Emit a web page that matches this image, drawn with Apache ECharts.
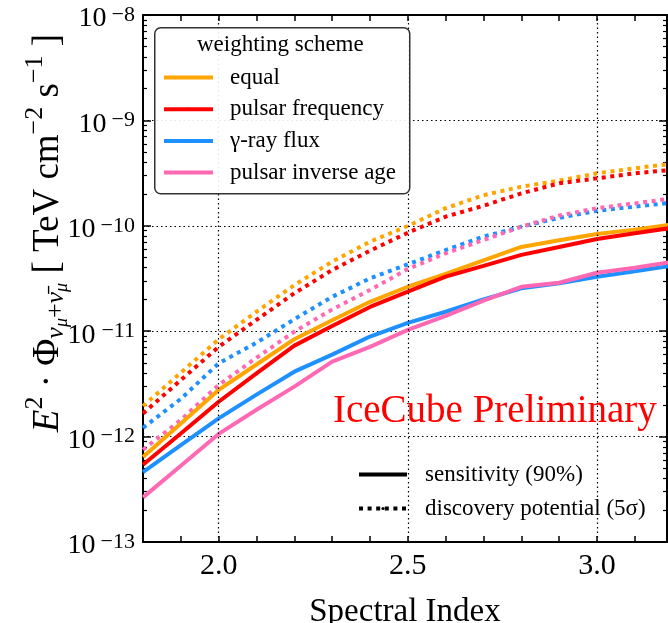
<!DOCTYPE html>
<html>
<head>
<meta charset="utf-8">
<script src="https://cdn.jsdelivr.net/npm/echarts@6.0.0/dist/echarts.min.js"></script>
<style>
  html, body { margin: 0; padding: 0; background: #fff; }
  #chart { width: 668px; height: 623px; }
</style>
</head>
<body>
<div id="chart"></div>
<script>
// spectral index grid
const xs = [1.8, 1.9, 2.0, 2.1, 2.2, 2.3, 2.4, 2.5, 2.6, 2.7, 2.8, 2.9, 3.0, 3.1, 3.2];

// sensitivity (90%)
const equalSens = [6.4e-13, 1.33e-12, 2.77e-12, 4.83e-12, 8.4e-12, 1.27e-11, 1.9e-11, 2.64e-11, 3.5e-11, 4.7e-11, 6.3e-11, 7.3e-11, 8.35e-11, 9.2e-11, 1.03e-10];
const freqSens = [5.4e-13, 1.07e-12, 2.14e-12, 3.98e-12, 7.3e-12, 1.12e-11, 1.7e-11, 2.37e-11, 3.29e-11, 4.17e-11, 5.3e-11, 6.3e-11, 7.5e-11, 8.5e-11, 9.6e-11];
const gammaSens = [4.6e-13, 8.3e-13, 1.49e-12, 2.5e-12, 4.13e-12, 6.0e-12, 8.9e-12, 1.2e-11, 1.53e-11, 2.0e-11, 2.55e-11, 2.85e-11, 3.29e-11, 3.7e-11, 4.2e-11];
const ageSens = [2.65e-13, 5.3e-13, 1.06e-12, 1.8e-12, 2.98e-12, 5.14e-12, 7.1e-12, 1.03e-11, 1.4e-11, 1.95e-11, 2.64e-11, 2.88e-11, 3.59e-11, 4.0e-11, 4.55e-11];

// discovery potential (5 sigma)
const equalDisc = [1.95e-12, 4.04e-12, 8.37e-12, 1.53e-11, 2.74e-11, 4.57e-11, 7.06e-11, 9.96e-11, 1.47e-10, 1.95e-10, 2.35e-10, 2.68e-10, 3.15e-10, 3.51e-10, 3.9e-10];
const freqDisc = [1.66e-12, 3.44e-12, 7.1e-12, 1.28e-11, 2.29e-11, 3.81e-11, 5.8e-11, 8.6e-11, 1.22e-10, 1.55e-10, 2.03e-10, 2.53e-10, 2.82e-10, 3.15e-10, 3.4e-10];
const gammaDisc = [1.21e-12, 2.28e-12, 4.96e-12, 7.78e-12, 1.3e-11, 2.12e-11, 3.17e-11, 4.31e-11, 5.89e-11, 7.9e-11, 9.8e-11, 1.19e-10, 1.39e-10, 1.52e-10, 1.66e-10];
const ageDisc = [7.5e-13, 1.44e-12, 3.09e-12, 5.6e-12, 9.9e-12, 1.61e-11, 2.46e-11, 3.89e-11, 5.48e-11, 7.33e-11, 9.8e-11, 1.25e-10, 1.47e-10, 1.63e-10, 1.82e-10];

const schemes = ["equal", "pulsar frequency", "\u03b3-ray flux", "pulsar inverse age"];
const colors = ["#ffa500", "#ff0000", "#1e90ff", "#ff69b4"];
const gridX = [2.0, 2.5, 3.0];

const FONT = "'Liberation Serif', 'DejaVu Serif', serif";
const DOTS = [4, 4.6];

const chart = echarts.init(document.getElementById("chart"));

const pairs = (ys) => xs.map((x, i) => [x, ys[i]]);

const sensSeries = [equalSens, freqSens, gammaSens, ageSens];
const discSeries = [equalDisc, freqDisc, gammaDisc, ageDisc];

const series = [];
sensSeries.forEach((ys, i) => {
  series.push({
    name: schemes[i],
    type: "line",
    data: pairs(ys),
    showSymbol: false,
    symbol: "none",
    z: 4,
    color: colors[i],
    lineStyle: { color: colors[i], width: 4, type: "solid" },
  });
});
discSeries.forEach((ys, i) => {
  series.push({
    name: schemes[i],
    type: "line",
    data: pairs(ys),
    showSymbol: false,
    symbol: "none",
    z: 3,
    color: colors[i],
    lineStyle: { color: colors[i], width: 4, type: DOTS, cap: "butt" },
  });
});
// dummy series, only for the line style legend
series.push({
  name: "sensitivity (90%)",
  type: "line",
  data: [],
  symbol: "none",
  color: "#000",
  lineStyle: { color: "#000", width: 4, type: "solid" },
});
series.push({
  name: "discovery potential (5\u03c3)",
  type: "line",
  data: [],
  symbol: "none",
  color: "#000",
  lineStyle: { color: "#000", width: 4, type: DOTS, cap: "butt" },
});
// vertical grid lines
series.push({
  name: "grid",
  type: "line",
  data: [],
  z: 1,
  markLine: {
    silent: true,
    symbol: "none",
    label: { show: false },
    lineStyle: { color: "#000", type: [1.5, 3], width: 1.2 },
    data: gridX.map((v) => ({ xAxis: v })),
  },
});

// exponent helpers for the 10^n labels
const SUP = 22;
const expOf = (v) => Math.round(Math.log10(v));
const supWidth = (n) => (0.564 + 0.5 * String(Math.abs(n)).length) * SUP;

const baseRich = {
  d1: { fontSize: 28, fontFamily: FONT, color: "#000", padding: [0, supWidth(9) + 5, 0, 0] },
  d2: { fontSize: 28, fontFamily: FONT, color: "#000", padding: [0, supWidth(10) + 5, 0, 0] },
};

const titleRich = {
  m: { fontSize: 37, fontFamily: FONT, color: "#000", lineHeight: 37, verticalAlign: "top", padding: [17, 0, 0, 0] },
  i: { fontSize: 37, fontFamily: FONT, fontStyle: "italic", color: "#000", lineHeight: 37, verticalAlign: "top", padding: [17, 0, 0, 0] },
  sup: { fontSize: 26, fontFamily: FONT, color: "#000", lineHeight: 25, verticalAlign: "top", padding: [10, 0, 0, 0] },
  sub: { fontSize: 26, fontFamily: FONT, fontStyle: "italic", color: "#000", lineHeight: 25, verticalAlign: "top", padding: [31, 0, 0, 0] },
  subs: { fontSize: 18, fontFamily: FONT, fontStyle: "italic", color: "#000", lineHeight: 17, verticalAlign: "top", padding: [41, 0, 0, 0] },
  subn: { fontSize: 26, fontFamily: FONT, color: "#000", lineHeight: 25, verticalAlign: "top", padding: [31, 0, 0, 0] },
};

const tickStyle = { show: true, inside: true, length: 8, lineStyle: { color: "#000", width: 1.5 } };
const minorStyle = { show: true, splitNumber: 9, length: 4, lineStyle: { color: "#000", width: 1.2 } };

const options = {
  animation: false,
  backgroundColor: "#fff",
  grid: { left: 143, right: 1, top: 15, bottom: 81, outerBoundsMode: "none", containLabel: false },
  xAxis: [
    {
      type: "value",
      min: 1.8,
      max: 3.185,
      interval: 0.1,
      name: "Spectral Index",
      nameLocation: "middle",
      nameGap: 54,
      nameTextStyle: { fontSize: 33, fontFamily: FONT, color: "#000" },
      axisLine: { show: true, lineStyle: { color: "#000", width: 2 } },
      axisTick: { show: true, inside: true, length: 6, lineStyle: { color: "#000", width: 1.5 } },
      axisLabel: {
        fontSize: 30,
        fontFamily: FONT,
        color: "#000",
        margin: 9,
        showMaxLabel: false,
        formatter: (v) => {
          const h = v * 2;
          if (v >= 1.95 && Math.abs(h - Math.round(h)) < 1e-6) return (Math.round(h) / 2).toFixed(1);
          return "";
        },
      },
      splitLine: { show: false },
    },
    {
      type: "value",
      position: "top",
      min: 1.8,
      max: 3.185,
      interval: 0.1,
      axisLine: { show: true, lineStyle: { color: "#000", width: 2 } },
      axisTick: { show: true, inside: true, length: 6, lineStyle: { color: "#000", width: 1.5 } },
      axisLabel: { show: false },
      splitLine: { show: false },
    },
  ],
  yAxis: [
    {
      // main axis: the "10" part of the labels
      type: "log",
      logBase: 10,
      min: 1e-13,
      max: 1e-8,
      axisLine: { show: true, lineStyle: { color: "#000", width: 2 } },
      axisTick: tickStyle,
      minorTick: minorStyle,
      axisLabel: {
        margin: 8,
        color: "#000",
        padding: [8, 0, 0, 0],
        formatter: (v) => (Math.abs(expOf(v)) >= 10 ? "{d2|10}" : "{d1|10}"),
        rich: baseRich,
      },
      splitLine: { show: true, lineStyle: { color: "#000", type: [1.5, 3], width: 1.2 } },
    },
    {
      type: "log",
      logBase: 10,
      min: 1e-13,
      max: 1e-8,
      position: "right",
      axisLine: { show: true, lineStyle: { color: "#000", width: 2 } },
      axisTick: tickStyle,
      minorTick: minorStyle,
      axisLabel: { show: false },
      splitLine: { show: false },
    },
    {
      // exponent part of the labels
      type: "log",
      logBase: 10,
      min: 1e-13,
      max: 1e-8,
      position: "left",
      axisLine: { show: false },
      axisTick: { show: false },
      splitLine: { show: false },
      axisLabel: {
        margin: 8,
        color: "#000",
        fontSize: SUP,
        fontFamily: FONT,
        padding: [0, 0, 14, 0],
        formatter: (v) => "\u2212" + Math.abs(expOf(v)),
      },
    },
  ],
  legend: [
    {
      orient: "vertical",
      left: 162,
      top: 66,
      z: 20,
      padding: 0,
      itemWidth: 49,
      itemHeight: 4,
      itemGap: 8.7,
      selectedMode: false,
      data: schemes,
      lineStyle: { width: 4 },
      textStyle: { fontSize: 23, fontFamily: FONT, color: "#000", lineHeight: 23, padding: [0, 0, 0, 12] },
    },
    {
      orient: "vertical",
      left: 357,
      top: 463,
      z: 20,
      padding: 0,
      itemWidth: 48,
      itemHeight: 4,
      itemGap: 11,
      selectedMode: false,
      data: ["sensitivity (90%)", "discovery potential (5\u03c3)"],
      lineStyle: { width: 4 },
      textStyle: { fontSize: 23, fontFamily: FONT, color: "#000", lineHeight: 23, padding: [0, 0, 0, 13] },
    },
  ],
  graphic: [
    {
      type: "rect",
      left: 154,
      top: 27,
      z: 10,
      shape: { width: 255, height: 166, r: 6 },
      style: { fill: "rgba(255,255,255,0.9)", stroke: "#333", lineWidth: 1.5 },
    },
    {
      type: "text",
      left: 197,
      top: 33,
      z: 11,
      style: { text: "weighting scheme", fontSize: 23, fontFamily: FONT, fill: "#000" },
    },
    {
      type: "text",
      left: 333,
      top: 392,
      z: 11,
      style: { text: "IceCube Preliminary", fontSize: 39, fontFamily: FONT, fill: "#ff0000" },
    },
    {
      type: "text",
      x: 31,
      y: 233,
      rotation: Math.PI / 2,
      z: 11,
      style: {
        text: "{i|E}{sup|2}{m| \u00b7 \u03a6}{sub|\u03bd}{subs|\u03bc}{subn|+}{sub|\u03bd\u0304}{subs|\u03bc}{m| [ TeV cm}{sup|\u22122}{m| s}{sup|\u22121}{m| ]}",
        rich: titleRich,
        align: "center",
        verticalAlign: "middle",
        fill: "#000",
      },
    },
  ],
  series: series,
};

chart.setOption(options);

window.addEventListener("resize", () => chart.resize());
</script>
</body>
</html>
